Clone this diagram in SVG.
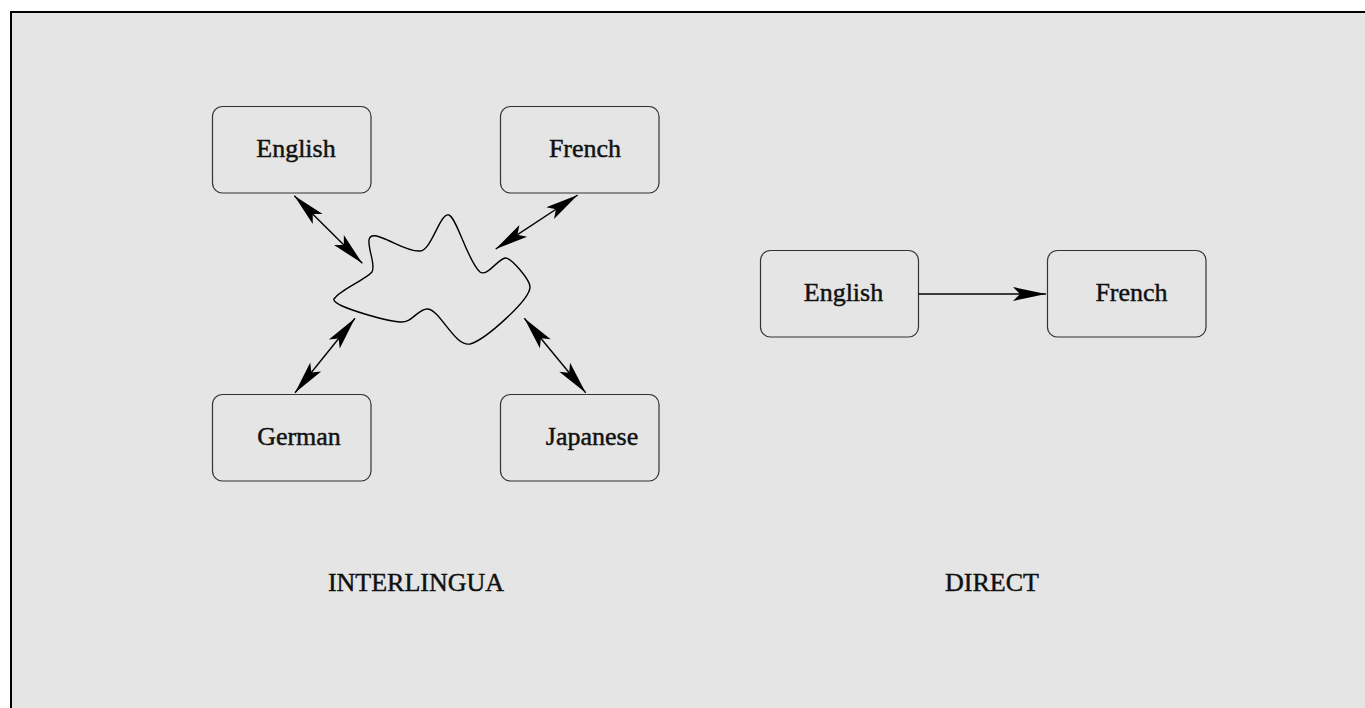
<svg xmlns="http://www.w3.org/2000/svg" width="1365" height="708" viewBox="0 0 1365 708">
<style>
.box{fill:#e5e5e5;stroke:#333;stroke-width:1.2}
.lbl{font-family:"Liberation Serif","Times New Roman",serif;font-size:26px;fill:#111;stroke:#111;stroke-width:0.45;text-anchor:middle}
.con{stroke:#000;stroke-width:1.4;fill:none}
</style>
<defs>
<marker id="ah" viewBox="-34 -8 35 16" markerWidth="35" markerHeight="16" refX="0" refY="0" markerUnits="userSpaceOnUse" orient="auto-start-reverse">
<path d="M0,0 L-33,-7 L-26,0 L-33,7 Z" fill="#000"/>
</marker>
</defs>
<rect x="0" y="0" width="1365" height="708" fill="#fff"/>
<rect x="11" y="12" width="1400" height="800" fill="#e5e5e5" stroke="#000" stroke-width="2"/>
<g id="blob">
<path class="con" d="M 335 298 C 340 290, 365 280, 372 272 C 376 265, 368 250, 369 240 C 370 233, 378 236, 385 239 C 395 243, 410 252, 420 251 C 432 250, 440 212, 449 215 C 457 218, 468 262, 480 272 C 487 277, 497 260, 505 258 C 511 257, 530 280, 530 287 C 530 300, 485 340, 470 344 C 455 347, 440 310, 428 309 C 418 308, 413 323, 400 322 C 385 321, 350 310, 340 305 C 333 301, 333 299, 335 298 Z"/>
</g>
<g id="n-english1"><rect class="box" x="212.5" y="106.5" width="158.5" height="86.5" rx="10"/><text class="lbl" x="296" y="157">English</text></g>
<g id="n-french1"><rect class="box" x="500.5" y="106.5" width="158.5" height="86.5" rx="10"/><text class="lbl" x="585" y="157">French</text></g>
<g id="n-german"><rect class="box" x="212.5" y="394.5" width="158.5" height="86.5" rx="10"/><text class="lbl" x="299" y="445">German</text></g>
<g id="n-japanese"><rect class="box" x="500.5" y="394.5" width="158.5" height="86.5" rx="10"/><text class="lbl" x="592" y="445">Japanese</text></g>
<g id="n-english2"><rect class="box" x="760.5" y="250.5" width="158" height="86.5" rx="10"/><text class="lbl" x="843.5" y="301">English</text></g>
<g id="n-french2"><rect class="box" x="1047.5" y="250.5" width="158.5" height="86.5" rx="10"/><text class="lbl" x="1131.5" y="301">French</text></g>
<g id="connectors">
<line class="con" x1="294.3" y1="195.7" x2="362.3" y2="263.3" marker-start="url(#ah)" marker-end="url(#ah)"/>
<line class="con" x1="577.7" y1="195" x2="495.7" y2="249" marker-start="url(#ah)" marker-end="url(#ah)"/>
<line class="con" x1="355" y1="318.3" x2="295" y2="392.7" marker-start="url(#ah)" marker-end="url(#ah)"/>
<line class="con" x1="524.3" y1="318.3" x2="585.7" y2="392.7" marker-start="url(#ah)" marker-end="url(#ah)"/>
<line class="con" x1="918.5" y1="294" x2="1046" y2="294" marker-end="url(#ah)"/>
</g>
<text class="lbl" x="416" y="591">INTERLINGUA</text>
<text class="lbl" x="992" y="591">DIRECT</text>
</svg>
